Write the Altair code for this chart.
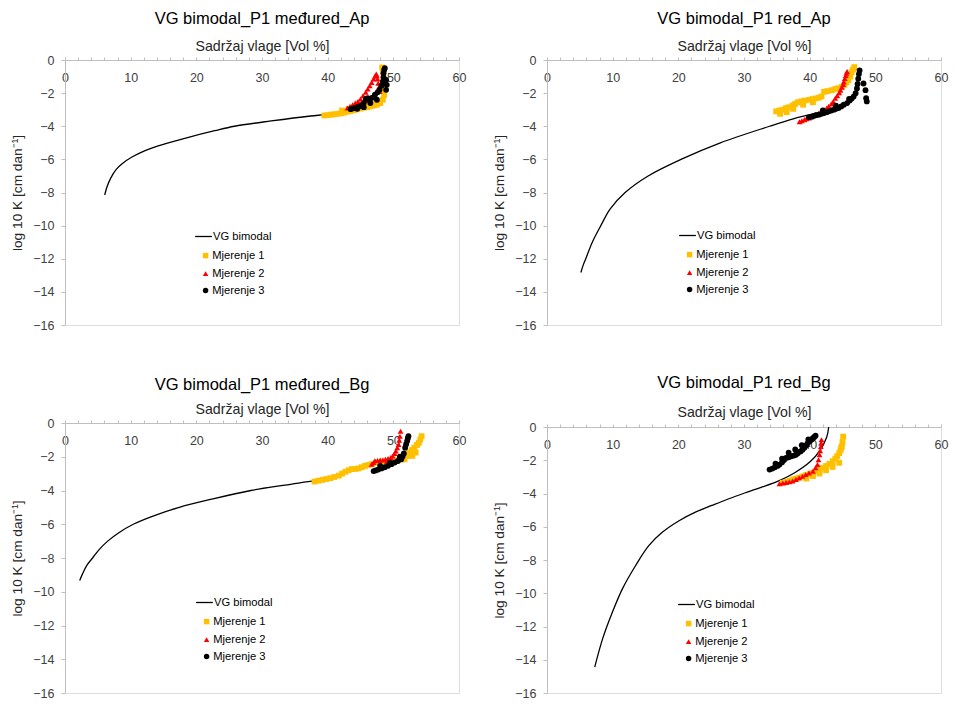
import altair as alt
import pandas as pd

SERIES = ["VG bimodal", "Mjerenje 1", "Mjerenje 2", "Mjerenje 3"]
SERIES_COLORS = ["#000000", "#FFC000", "#FF0000", "#000000"]
SERIES_SHAPES = ["stroke", "square", "triangle-up", "circle"]
X_TICKS = list(range(0, 61, 2))
Y_TICKS = list(range(-16, 1, 2))
X_TITLE = "Sadržaj vlage [Vol %]"
Y_TITLE = "log 10 K [cm dan⁻¹]"
TITLES = ["VG bimodal_P1 međured_Ap", "VG bimodal_P1 red_Ap",
          "VG bimodal_P1 međured_Bg", "VG bimodal_P1 red_Bg"]

# ---------- Panel 1: međured_Ap ----------
p1_curve_x = [6.05, 6.4, 7.0, 7.8, 8.7, 10.2, 12.2, 15.2, 18.8, 22.8, 25.8, 31.4, 37.4, 39.5, 41.0]
p1_curve_y = [-8.15, -7.65, -7.1, -6.6, -6.26, -5.86, -5.47, -5.07, -4.67, -4.27, -4.0, -3.68, -3.38, -3.3, -3.22]
p1_m1_x = [39.5, 40.0, 40.5, 41.0, 41.5, 42.0, 42.5, 43.0, 43.5, 44.0, 44.5, 45.0, 45.5, 46.0, 46.5, 47.0,
           47.5, 48.0, 48.4, 48.6, 48.7, 48.7, 48.6, 48.5, 48.4, 48.3, 42.2, 43.2, 44.2, 45.2, 46.2, 47.2]
p1_m1_y = [-3.35, -3.33, -3.3, -3.28, -3.25, -3.22, -3.18, -3.12, -3.08, -3.03, -2.98, -2.93, -2.88, -2.85, -2.8, -2.75,
           -2.7, -2.6, -2.4, -2.1, -1.8, -1.5, -1.2, -0.9, -0.65, -0.45, -3.05, -2.95, -2.85, -2.8, -2.75, -2.65]
p1_m2_x = [43.0, 43.4, 43.8, 44.2, 44.6, 45.0, 45.4, 45.8, 46.1, 46.4, 46.7, 47.0, 47.2, 47.4, 47.5, 47.6,
           47.7, 47.8, 47.9, 44.0, 45.0, 46.0]
p1_m2_y = [-2.9, -2.8, -2.7, -2.6, -2.5, -2.35, -2.15, -1.95, -1.75, -1.55, -1.35, -1.15, -0.98, -0.85, -0.95, -1.15,
           -1.4, -1.65, -1.9, -2.85, -2.65, -2.45]
p1_m3_x = [43.5, 43.9, 44.3, 44.7, 45.1, 45.5, 45.8, 46.1, 46.4, 46.8, 47.2, 47.6, 47.9, 48.2, 48.4, 48.5,
           48.5, 48.6, 48.7, 48.9, 49.0, 48.9, 44.5, 45.5, 46.5, 47.5]
p1_m3_y = [-2.97, -2.92, -2.88, -2.82, -2.75, -2.6, -2.35, -2.3, -2.4, -2.28, -2.1, -1.95, -1.8, -1.55, -1.3, -1.05,
           -0.8, -0.6, -0.5, -1.2, -1.5, -1.8, -2.95, -2.85, -2.6, -2.4]

# ---------- Panel 2: red_Ap ----------
p2_curve_x = [5.16, 5.5, 5.9, 6.9, 8.2, 9.6, 11.9, 15.4, 20.4, 26.4, 33.9, 37.5, 39.5, 41.0]
p2_curve_y = [-12.83, -12.4, -12.0, -11.0, -10.0, -9.0, -8.0, -7.0, -6.0, -5.0, -4.0, -3.55, -3.35, -3.2]
p2_m1_x = [34.9, 35.4, 35.9, 36.4, 36.9, 37.4, 37.8, 38.2, 38.7, 39.2, 39.9, 40.4, 40.9, 41.4, 41.8, 42.2,
           42.7, 43.4, 43.9, 44.4, 44.9, 45.3, 45.6, 45.9, 46.2, 46.4, 46.6, 46.8, 35.5, 36.5, 37.5, 39.0, 40.5]
p2_m1_y = [-3.1, -3.05, -3.0, -2.9, -2.85, -2.75, -2.65, -2.55, -2.5, -2.45, -2.41, -2.36, -2.32, -2.28, -2.2, -1.92,
           -1.88, -1.82, -1.75, -1.7, -1.62, -1.5, -1.35, -1.22, -1.0, -0.73, -0.58, -0.43, -3.25, -3.15, -2.95, -2.7, -2.55]
p2_m2_x = [38.45, 38.8, 39.2, 39.5, 39.9, 40.3, 40.7, 41.0, 41.4, 41.8, 42.2, 42.6, 42.9, 43.3, 43.6, 43.9,
           44.2, 44.5, 44.7, 44.9, 45.1, 45.2, 45.35, 45.5, 45.6, 45.7]
p2_m2_y = [-3.73, -3.67, -3.6, -3.55, -3.5, -3.42, -3.33, -3.27, -3.2, -3.1, -3.0, -2.9, -2.8, -2.65, -2.5, -2.31,
           -2.15, -1.98, -1.82, -1.65, -1.48, -1.32, -1.12, -0.93, -0.8, -0.69]
p2_m3_x = [39.9, 40.3, 40.7, 41.0, 41.4, 41.8, 42.2, 42.6, 42.9, 43.3, 43.7, 44.0, 44.4, 44.8, 45.2, 45.7,
           46.1, 46.4, 46.7, 47.0, 47.2, 47.3, 47.4, 47.5, 47.6, 48.2, 48.5, 48.6, 48.7, 42.0, 44.0, 46.0]
p2_m3_y = [-3.46, -3.42, -3.37, -3.33, -3.3, -3.25, -3.2, -3.15, -3.1, -3.05, -3.0, -2.95, -2.9, -2.8, -2.7, -2.6,
           -2.45, -2.33, -2.21, -2.0, -1.72, -1.45, -1.13, -0.85, -0.63, -1.42, -1.82, -2.31, -2.5, -3.05, -2.75, -2.35]

# ---------- Panel 3: međured_Bg ----------
p3_curve_x = [2.24, 2.6, 3.3, 4.2, 5.2, 6.5, 8.2, 10.4, 13.5, 17.4, 22.5, 28.3, 33.5, 38.0, 40.0]
p3_curve_y = [-9.33, -9.0, -8.45, -8.0, -7.5, -7.0, -6.5, -6.0, -5.5, -5.0, -4.5, -4.0, -3.68, -3.42, -3.28]
p3_m1_x = [38.0, 38.6, 39.2, 39.8, 40.4, 41.0, 41.7, 42.2, 42.7, 43.2, 43.7, 44.2, 44.7, 45.2, 45.7, 46.2,
           46.7, 47.5, 48.5, 49.5, 50.5, 51.2, 51.7, 52.1, 52.4, 52.8, 53.2, 53.6, 53.9, 54.1, 54.3, 52.9, 53.4]
p3_m1_y = [-3.47, -3.42, -3.37, -3.32, -3.27, -3.2, -3.12, -3.0, -2.89, -2.8, -2.73, -2.72, -2.69, -2.62, -2.54,
           -2.49, -2.44, -2.35, -2.28, -2.22, -2.18, -2.16, -2.15, -1.95, -1.76, -1.6, -1.46, -1.3, -1.17, -0.98,
           -0.78, -1.95, -1.75]
p3_m2_x = [46.7, 47.0, 47.2, 47.6, 48.0, 48.4, 48.8, 49.2, 49.6, 49.9, 50.2, 50.4, 50.6, 50.8, 50.9, 51.0,
           51.1, 48.0, 49.0]
p3_m2_y = [-2.44, -2.34, -2.24, -2.22, -2.2, -2.19, -2.15, -2.11, -2.05, -1.95, -1.8, -1.66, -1.47, -1.27, -1.02,
           -0.78, -0.49, -2.4, -2.3]
p3_m3_x = [47.0, 47.3, 47.7, 48.2, 48.7, 49.2, 49.7, 50.2, 50.7, 51.2, 51.4, 51.6, 51.8, 51.95, 52.1, 52.2, 52.3,
           48.0, 49.5, 51.0]
p3_m3_y = [-2.85, -2.81, -2.76, -2.69, -2.62, -2.54, -2.44, -2.34, -2.25, -2.15, -1.98, -1.8, -1.46, -1.26, -1.07,
           -0.92, -0.78, -2.55, -2.35, -2.0]

# ---------- Panel 4: red_Bg ----------
p4_curve_x = [7.27, 8.5, 10.0, 11.5, 13.5, 15.5, 17.5, 20.05, 22.6, 25.1, 27.6, 30.1, 32.6, 35.1, 37.6, 40.1,
              41.6, 42.6, 42.9]
p4_curve_y = [-14.44, -12.7, -11.1, -9.72, -8.33, -7.14, -6.35, -5.65, -5.12, -4.72, -4.33, -3.97, -3.63, -3.27,
              -2.78, -2.08, -1.39, -0.6, 0.0]
p4_m1_x = [35.9, 36.5, 37.0, 37.5, 38.0, 38.4, 38.9, 39.4, 40.0, 40.5, 41.0, 41.5, 42.0, 42.5, 43.0, 43.5,
           43.9, 44.2, 44.5, 44.7, 44.8, 44.9, 45.0, 45.1, 39.5, 40.5, 41.5, 42.5, 43.5, 44.5]
p4_m1_y = [-3.35, -3.3, -3.22, -3.15, -3.1, -3.05, -2.98, -2.9, -2.83, -2.76, -2.66, -2.56, -2.46, -2.35, -2.22,
           -2.06, -1.9, -1.75, -1.57, -1.4, -1.25, -1.17, -0.9, -0.58, -3.1, -2.95, -2.8, -2.6, -2.4, -2.15]
p4_m2_x = [35.4, 35.9, 36.4, 36.9, 37.4, 37.9, 38.4, 38.9, 39.4, 39.9, 40.5, 40.9, 41.2, 41.35, 41.5, 41.6,
           41.7, 41.75, 41.8]
p4_m2_y = [-3.41, -3.37, -3.33, -3.29, -3.25, -3.15, -3.05, -2.96, -2.86, -2.76, -2.66, -2.45, -2.26, -1.97, -1.67,
           -1.42, -1.17, -0.97, -0.77]
p4_m3_x = [33.9, 34.3, 34.7, 35.1, 35.4, 35.8, 36.1, 36.4, 36.8, 37.2, 37.6, 37.9, 38.2, 38.6, 38.9, 39.2,
           39.5, 39.7, 40.0, 40.3, 40.5, 40.7, 40.9, 34.8, 35.8, 36.8, 37.8, 38.8, 39.8]
p4_m3_y = [-2.56, -2.5, -2.42, -2.34, -2.26, -2.12, -1.98, -1.86, -1.82, -1.76, -1.72, -1.67, -1.58, -1.47, -1.37,
           -1.25, -1.1, -0.97, -0.85, -0.75, -0.67, -0.6, -0.52, -2.2, -1.9, -1.55, -1.35, -1.1, -0.75]

PANELS = [
    (p1_curve_x, p1_curve_y, [(p1_m1_x, p1_m1_y), (p1_m2_x, p1_m2_y), (p1_m3_x, p1_m3_y)]),
    (p2_curve_x, p2_curve_y, [(p2_m1_x, p2_m1_y), (p2_m2_x, p2_m2_y), (p2_m3_x, p2_m3_y)]),
    (p3_curve_x, p3_curve_y, [(p3_m1_x, p3_m1_y), (p3_m2_x, p3_m2_y), (p3_m3_x, p3_m3_y)]),
    (p4_curve_x, p4_curve_y, [(p4_m1_x, p4_m1_y), (p4_m2_x, p4_m2_y), (p4_m3_x, p4_m3_y)]),
]

FONT = "Liberation Sans"
AXIS_GREY = "#BFBFBF"
LABEL_COLOR = "#404040"


def make_panel(idx, width, height, lx, ly, title_offset, x_title_pad):
    cx, cy, meas = PANELS[idx]
    curve = pd.DataFrame({"x": cx, "y": cy, "series": SERIES[0]})
    rows = []
    for name, (xs, ys) in zip(SERIES[1:], meas):
        rows += [{"x": a, "y": b, "series": name} for a, b in zip(xs, ys)]
    pts = pd.DataFrame(rows)

    xenc = alt.X("x:Q", scale=alt.Scale(domain=[0, 60], nice=False, zero=False), axis=alt.Axis(
        orient="top", values=X_TICKS, labelExpr="datum.value % 10 === 0 ? datum.label : ''",
        labelOverlap=False, labelFlush=False, tickSize=3, tickColor=AXIS_GREY, domainColor=AXIS_GREY,
        labelBaseline="top", labelPadding=-14, labelFontSize=12.5, labelColor=LABEL_COLOR, labelFont=FONT,
        title=X_TITLE, titleFontSize=14.2, titleFontWeight="normal", titleFont=FONT, titleColor="#262626",
        titlePadding=x_title_pad, grid=False))
    yenc = alt.Y("y:Q", scale=alt.Scale(domain=[-16, 0], nice=False, zero=False), axis=alt.Axis(
        orient="left", values=Y_TICKS, tickSize=4, tickColor=AXIS_GREY, domainColor=AXIS_GREY,
        labelFontSize=12.5, labelColor=LABEL_COLOR, labelFont=FONT, labelPadding=7,
        title=Y_TITLE, titleFontSize=13.7, titleFontWeight="normal", titleFont=FONT, titleColor="#262626",
        titlePadding=8, grid=False))

    line_legend = alt.Legend(title=None, orient="none", legendX=lx, legendY=ly, symbolType="stroke",
                             symbolSize=280, symbolStrokeWidth=1.3, labelFont=FONT, labelFontSize=11.2,
                             labelColor="#000000", labelOffset=0)
    pt_legend = alt.Legend(title=None, orient="none", legendX=lx + 6, legendY=ly + 23,
                           symbolSize=30, symbolOpacity=1, labelFont=FONT, labelFontSize=11.2,
                           labelColor="#000000", labelOffset=1, rowPadding=5)

    line = alt.Chart(curve).mark_line(strokeWidth=1.3, interpolate="catmull-rom").encode(
        x=xenc, y=yenc,
        stroke=alt.Stroke("series:N", scale=alt.Scale(domain=SERIES[:1], range=SERIES_COLORS[:1]),
                          legend=line_legend))
    points = alt.Chart(pts).mark_point(filled=True, size=34, opacity=1).encode(
        x=xenc, y=yenc,
        fill=alt.Fill("series:N", scale=alt.Scale(domain=SERIES[1:], range=SERIES_COLORS[1:]),
                      legend=pt_legend),
        shape=alt.Shape("series:N", scale=alt.Scale(domain=SERIES[1:], range=SERIES_SHAPES[1:]),
                        legend=pt_legend))
    return alt.layer(line, points).properties(
        width=width, height=height,
        title=alt.Title(TITLES[idx], fontSize=16.5, fontWeight="normal", font=FONT, color="#000000",
                        offset=title_offset),
    )


c1 = make_panel(0, 394, 265, 129, 167, 12, 3.5)
c2 = make_panel(1, 394, 265, 131, 166, 12, 3.5)
c3 = make_panel(2, 394, 270, 130, 170, 9, 3.5)
c4 = make_panel(3, 394, 266, 130, 168, 14, 4.5)

RES = dict(stroke="independent", fill="independent", shape="independent")
left_col = alt.vconcat(c1, c3, spacing=44).resolve_scale(**RES)
right_col = alt.vconcat(c2, c4, spacing=42).resolve_scale(**RES)
chart = alt.hconcat(left_col, right_col, spacing=25).resolve_scale(**RES).properties(
    padding={"left": 2, "top": 2, "right": 0, "bottom": 0}
).configure_view(stroke=None).configure(font=FONT, background="white")

chart.save("out.html", embed_options={"renderer": "svg", "actions": False})
